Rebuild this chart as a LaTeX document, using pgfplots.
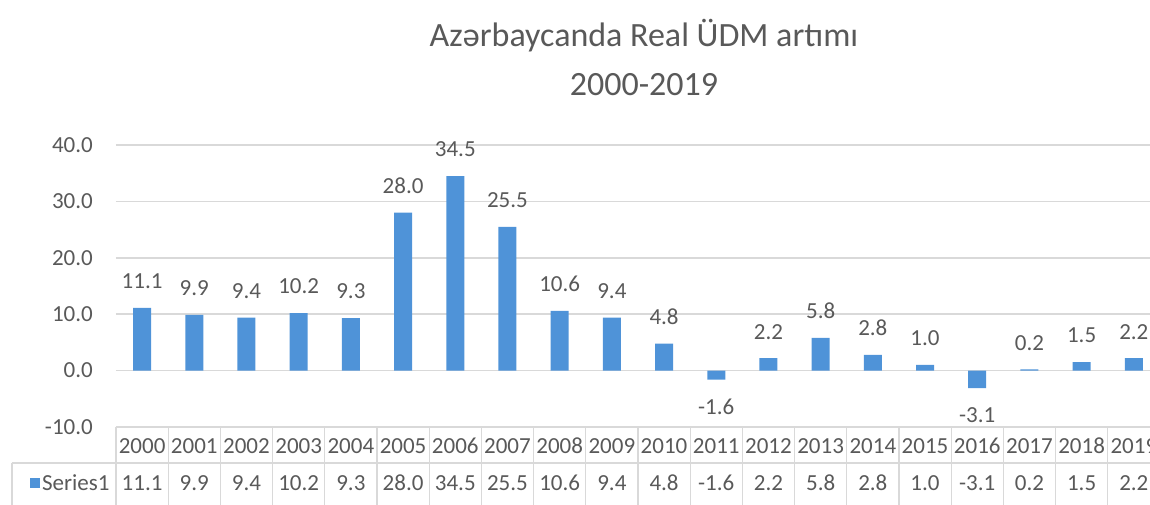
\documentclass[border=0pt]{standalone}
\usepackage{fontspec}
\setmainfont{Carlito}
\usepackage{pgfplots}
\pgfplotsset{compat=1.18}
\definecolor{barblue}{HTML}{4F93D8}
\definecolor{txtgray}{HTML}{595959}
\definecolor{gridgray}{HTML}{D9D9D9}
\begin{document}
\begin{tikzpicture}
\useasboundingbox (-116pt,-77pt) rectangle (1034pt,427pt);
\clip (-116pt,-77pt) rectangle (1034pt,427pt);
\begin{axis}[
  at={(0,0)}, anchor=south west,
  scale only axis, width=1034pt, height=282pt,
  xmin=-0.5, xmax=19.31, ymin=-10, ymax=40,
  clip=false,
  axis line style={draw=none},
  major tick length=0pt,
  ymajorgrids, grid style={gridgray, line width=1.5pt},
  ytick={-10,0,10,20,30,40},
  /pgf/number format/assume math mode=true,
  yticklabel style={font=\fontsize{23}{28}\selectfont, text=txtgray, anchor=east, inner sep=0pt, xshift=-23pt,
    /pgf/number format/.cd, fixed, fixed zerofill, precision=1},
  xtick={0,...,19},
  xticklabels={{2000\\11.1},{2001\\9.9},{2002\\9.4},{2003\\10.2},{2004\\9.3},{2005\\28.0},{2006\\34.5},{2007\\25.5},{2008\\10.6},{2009\\9.4},{2010\\4.8},{2011\\-1.6},{2012\\2.2},{2013\\5.8},{2014\\2.8},{2015\\1.0},{2016\\-3.1},{2017\\0.2},{2018\\1.5},{2019\\2.2}},
  xticklabel style={font=\fontsize{23}{37}\selectfont, text=txtgray, align=center, anchor=north, inner sep=0pt, yshift=-11pt},
  ybar, bar width=18pt,
  nodes near coords,
  nodes near coords style={font=\fontsize{23}{28}\selectfont, text=txtgray, inner sep=0pt, outer ysep=19pt,
    /pgf/number format/.cd, fixed, fixed zerofill, precision=1},
  legend style={at={(axis description cs:-0.0832,-0.1986)}, anchor=west, draw=none, fill=none, inner sep=0pt,
    font=\fontsize{23}{28}\selectfont, text=txtgray},
  legend image code/.code={\fill[barblue] (0pt,-5pt) rectangle (10pt,5pt);},
]
\addplot[fill=barblue, draw=none] coordinates {
(0,11.1) (1,9.9) (2,9.4) (3,10.2) (4,9.3) (5,28.0) (6,34.5) (7,25.5) (8,10.6) (9,9.4)
(10,4.8) (11,-1.6) (12,2.2) (13,5.8) (14,2.8) (15,1.0) (16,-3.1) (17,0.2) (18,1.5) (19,2.2)};
\addlegendentry{Series1}
\end{axis}
% data table borders
\foreach \k in {0,...,20} {\draw[gridgray, line width=1.2pt] (52.2*\k pt,0pt) -- (52.2*\k pt,-80pt);}
\draw[gridgray, line width=1.2pt] (-104pt,-36pt) -- (1040pt,-36pt);
\draw[gridgray, line width=1.2pt] (-104pt,-36pt) -- (-104pt,-80pt);
% title
\node[anchor=base, text=txtgray, font=\fontsize{34}{40}\selectfont] at (528pt,380pt) {Azərbaycanda Real ÜDM artımı};
\node[anchor=base, text=txtgray, font=\fontsize{34}{40}\selectfont] at (528pt,331pt) {2000-2019};
\end{tikzpicture}
\end{document}
